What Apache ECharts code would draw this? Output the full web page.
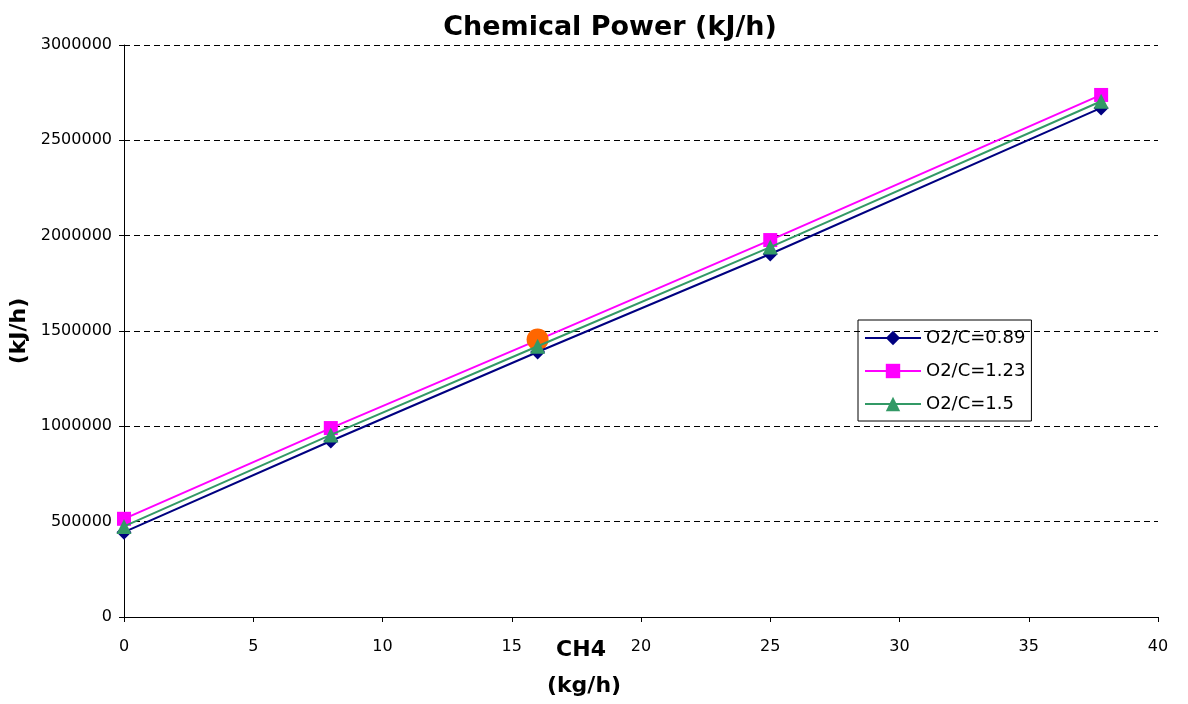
<!DOCTYPE html>
<html><head><meta charset="utf-8">
<script src="https://cdn.jsdelivr.net/npm/echarts@6/dist/echarts.min.js"></script>
<style>html,body{margin:0;padding:0;background:#fff}#c{width:1188px;height:704px}</style>
</head><body><div id="c"></div>
<script>
const xValues = [0, 8, 16, 25, 37.8];
const seriesNames = ['O2/C=0.89', 'O2/C=1.23', 'O2/C=1.5'];
const s089 = [445000, 923000, 1390000, 1904000, 2670000];
const s123 = [515000, 991000, 1452000, 1977000, 2738000];
const s150 = [475000, 955000, 1420000, 1940000, 2705000];
const highlightPoint = [16, 1455000];
const titleText = 'Chemical Power (kJ/h)';
const xNameLines = ['CH4', '(kg/h)'];
const yName = '(kJ/h)';

const pair = (vals) => xValues.map((x, i) => [x, vals[i]]);
const font = '"DejaVu Sans", "Liberation Sans", Arial, sans-serif';
const chart = echarts.init(document.getElementById('c'));
chart.setOption({
  animation: false,
  backgroundColor: '#fff',
  title: { text: titleText, left: 605, top: 9, textAlign: 'center',
    textStyle: { fontFamily: font, fontSize: 27, fontWeight: 'bold', color: '#000' } },
  grid: { left: 124, right: 30, top: 45, bottom: 87, outerBoundsMode: 'none', containLabel: false },
  graphic: [
    { type: 'text', left: 'center', top: 0, x: 0, style: {} , invisible: true },
    { type: 'text', x: 581, y: 650, style: { text: xNameLines[0], font: 'bold 22px ' + font, fill: '#000', align: 'center', verticalAlign: 'middle' } },
    { type: 'text', x: 584, y: 686, style: { text: xNameLines[1], font: 'bold 22px ' + font, fill: '#000', align: 'center', verticalAlign: 'middle' } }
  ],
  xAxis: { type: 'value', min: 0, max: 40, interval: 5,
    axisLine: { lineStyle: { color: '#000', width: 1 } },
    axisTick: { show: true, length: 5, lineStyle: { color: '#000' } },
    axisLabel: { fontFamily: font, fontSize: 16, color: '#000', margin: 22 },
    splitLine: { show: false } },
  yAxis: { type: 'value', min: 0, max: 3000000, interval: 500000,
    name: yName, nameLocation: 'middle', nameGap: 92,
    nameTextStyle: { fontFamily: font, fontSize: 22, fontWeight: 'bold', color: '#000' },
    axisLine: { show: true, lineStyle: { color: '#000', width: 1 } },
    axisTick: { show: true, length: 5, lineStyle: { color: '#000' } },
    axisLabel: { fontFamily: font, fontSize: 16, color: '#000', margin: 12, formatter: (v) => String(v) },
    splitLine: { show: true, lineStyle: { color: '#000', type: [6, 4], width: 1 } } },
  legend: { orient: 'vertical', left: 858, top: 320, data: seriesNames,
    borderColor: '#000', borderWidth: 1, padding: [9, 6, 8, 6], itemGap: 15,
    itemWidth: 56, itemHeight: 18,
    textStyle: { fontFamily: font, fontSize: 18, color: '#000' } },
  series: [
    { name: seriesNames[1], type: 'line', data: pair(s123), symbol: 'rect', symbolSize: 14,
      itemStyle: { color: '#ff00ff' }, lineStyle: { color: '#ff00ff', width: 2 }, z: 2 },
    { name: 'point', type: 'scatter', data: [highlightPoint], symbol: 'circle', symbolSize: 22,
      itemStyle: { color: '#ff6600', opacity: 1 }, z: 3 },
    { name: seriesNames[0], type: 'line', data: pair(s089), symbol: 'diamond', symbolSize: 15,
      itemStyle: { color: '#000080' }, lineStyle: { color: '#000080', width: 2 }, z: 4 },
    { name: seriesNames[2], type: 'line', data: pair(s150), symbol: 'triangle', symbolSize: 15,
      itemStyle: { color: '#339966' }, lineStyle: { color: '#339966', width: 2 }, z: 5 }
  ]
});
</script></body></html>
